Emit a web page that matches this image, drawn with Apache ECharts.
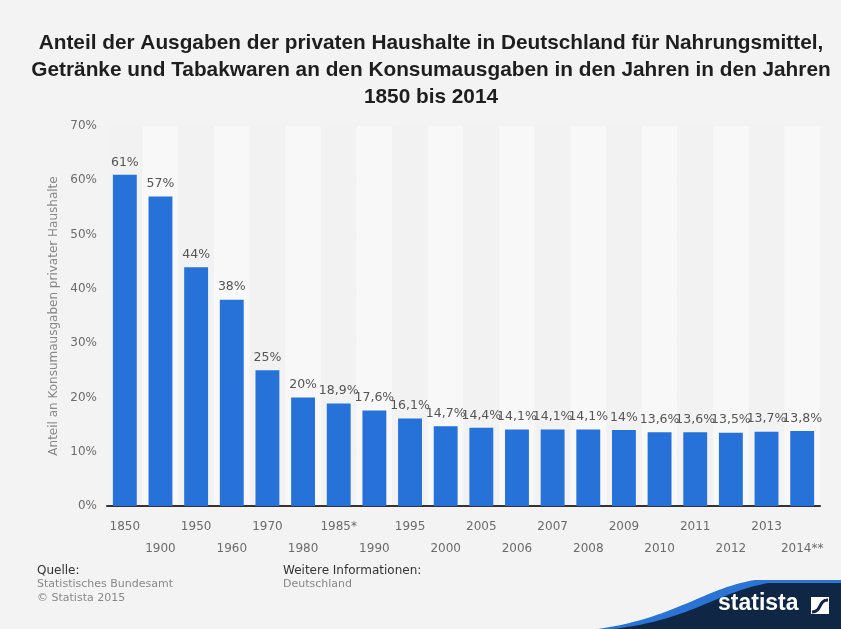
<!DOCTYPE html>
<html>
<head>
<meta charset="utf-8">
<script src="https://cdn.jsdelivr.net/npm/echarts@6/dist/echarts.min.js"></script>
<style>
  html, body { margin: 0; padding: 0; background: #f3f3f3; }
  #chart { width: 841px; height: 629px; }
</style>
</head>
<body>
<div id="chart"></div>
<script>
// Jahre (Kategorien) und Anteile in Prozent
var years = ['1850', '1900', '1950', '1960', '1970', '1980', '1985*', '1990', '1995', '2000',
  '2005', '2006', '2007', '2008', '2009', '2010', '2011', '2012', '2013', '2014**'];
var shares = [61, 57, 44, 38, 25, 20, 18.9, 17.6, 16.1, 14.7,
  14.4, 14.1, 14.1, 14.1, 14, 13.6, 13.6, 13.5, 13.7, 13.8];
var yTicks = [0, 10, 20, 30, 40, 50, 60, 70];

var titleText = 'Anteil der Ausgaben der privaten Haushalte in Deutschland für Nahrungsmittel,\n' +
  'Getränke und Tabakwaren an den Konsumausgaben in den Jahren in den Jahren\n1850 bis 2014';

function pct (v) {
  return String(v).replace('.', ',') + '%';
}

// Punkte einer kubischen Bezierkurve (fuer die Logo-Welle)
function bez (p0, p1, p2, p3, n) {
  var pts = [];
  for (var i = 0; i <= n; i++) {
    var t = i / n, u = 1 - t;
    pts.push([
      u * u * u * p0[0] + 3 * u * u * t * p1[0] + 3 * u * t * t * p2[0] + t * t * t * p3[0],
      u * u * u * p0[1] + 3 * u * u * t * p1[1] + 3 * u * t * t * p2[1] + t * t * t * p3[1]
    ]);
  }
  return pts;
}
function wave (dx, dy) {
  var pts = bez([598 + dx, 629], [675 + dx, 618 + dy], [705 + dx, 588 + dy], [755 + dx, 580 + dy], 30);
  pts.push([841, 580 + dy], [841, 629]);
  return pts;
}

var chart = echarts.init(document.getElementById('chart'));
chart.setOption({
  backgroundColor: '#f3f3f3',
  animation: false,
  textStyle: { fontFamily: 'DejaVu Sans' },
  title: {
    text: titleText,
    left: 426,
    top: 25,
    textAlign: 'center',
    textStyle: {
      fontFamily: 'Liberation Sans',
      fontWeight: 'bold',
      fontSize: 20.8,
      lineHeight: 27,
      color: '#1e1e1e'
    }
  },
  grid: { left: 107, right: 21, top: 126, bottom: 123 },
  xAxis: {
    type: 'category',
    data: years,
    axisTick: { show: false },
    axisLine: { lineStyle: { color: '#333', width: 2 } },
    splitArea: { show: true, areaStyle: { color: ['#f2f2f2', '#f8f8f8'] } },
    axisLabel: {
      interval: 0,
      margin: 10,
      color: '#6b6b6b',
      fontSize: 12,
      lineHeight: 22,
      formatter: function (v, i) { return i % 2 ? '\n' + v : v; }
    }
  },
  yAxis: {
    type: 'value',
    min: yTicks[0],
    max: yTicks[yTicks.length - 1],
    interval: 10,
    name: 'Anteil an Konsumausgaben privater Haushalte',
    nameLocation: 'middle',
    nameGap: 42,
    nameTextStyle: { color: '#888', fontSize: 12 },
    axisLine: { show: false },
    axisTick: { show: false },
    axisLabel: { color: '#6b6b6b', fontSize: 12, margin: 10, formatter: '{value}%' },
    splitLine: { lineStyle: { color: '#d2d2d2', type: [1, 2] } }
  },
  series: [{
    type: 'bar',
    data: shares,
    barWidth: '67%',
    itemStyle: { color: '#2672d8' },
    label: {
      show: true,
      position: 'top',
      distance: 6,
      color: '#555',
      fontSize: 12.5,
      formatter: function (p) { return pct(p.value); }
    }
  }],
  graphic: [
    { type: 'text', left: 37, top: 565, style: { text: 'Quelle:', fill: '#333', font: '12px DejaVu Sans' } },
    { type: 'text', left: 37, top: 579, style: { text: 'Statistisches Bundesamt', fill: '#888', font: '11px DejaVu Sans' } },
    { type: 'text', left: 37, top: 593, style: { text: '© Statista 2015', fill: '#888', font: '11px DejaVu Sans' } },
    { type: 'text', left: 283, top: 565, style: { text: 'Weitere Informationen:', fill: '#333', font: '12px DejaVu Sans' } },
    { type: 'text', left: 283, top: 579, style: { text: 'Deutschland', fill: '#888', font: '11px DejaVu Sans' } },
    // Logo-Welle
    { type: 'polygon', shape: { points: wave(0, 0) }, style: { fill: '#2a74d6' } },
    { type: 'polygon', shape: { points: wave(14, 3) }, style: { fill: '#0f2744' } },
    { type: 'text', left: 718, top: 592, style: { text: 'statista', fill: '#fff', font: 'bold 23px Liberation Sans' } },
    { type: 'rect', shape: { x: 811, y: 597, width: 18, height: 17 }, style: { fill: '#fff' } },
    {
      type: 'bezierCurve',
      shape: { x1: 812, y1: 612, x2: 828, y2: 600, cpx1: 822, cpy1: 612, cpx2: 818, cpy2: 600 },
      style: { stroke: '#0f2744', lineWidth: 3, fill: null }
    }
  ]
});
</script>
</body>
</html>
